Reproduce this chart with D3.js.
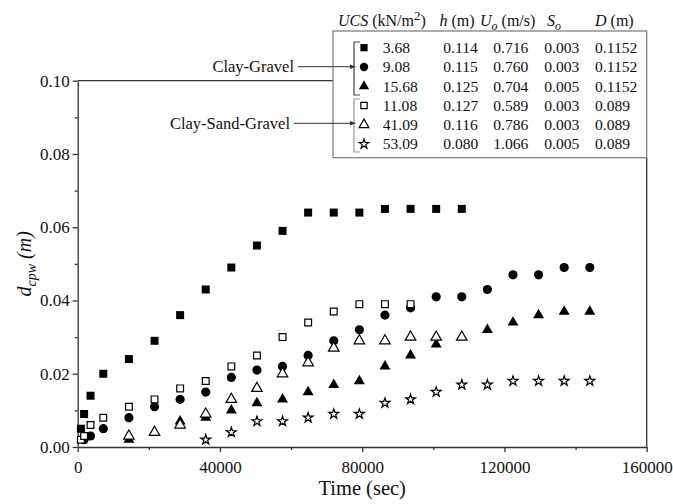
<!DOCTYPE html>
<html><head><meta charset="utf-8">
<script src="https://cdn.jsdelivr.net/npm/d3@7"></script>
<style>
body{margin:0;background:#fff;}
text{font-family:"Liberation Serif","Times New Roman",serif;fill:#111;}
</style></head>
<body><svg id="c" width="673" height="504"></svg>
<script>
// ---- data ----
const sqTime = [900,1800,3600,7200,14400,21600,28800,36000,43200,50400,57600,64800,72000,79200,86400,93600,100800,108000];
const sqVal  = [0.005,0.009,0.014,0.020,0.024,0.029,0.036,0.043,0.049,0.055,0.059,0.064,0.064,0.064,0.065,0.065,0.065,0.065];
const ciTime = [1800,3600,7200,14400,21600,28800,36000,43200,50400,57600,64800,72000,79200,86400,93600,100800,108000,115200,122400,129600,136800,144000];
const ciVal  = [0.002,0.003,0.005,0.008,0.011,0.013,0.015,0.019,0.021,0.022,0.025,0.029,0.032,0.036,0.038,0.041,0.041,0.043,0.047,0.047,0.049,0.049];
const trTime = [14400,28800,36000,43200,50400,57600,64800,72000,79200,86400,93600,100800,115200,122400,129600,136800,144000];
const trVal  = [0.002,0.007,0.008,0.010,0.012,0.013,0.015,0.017,0.018,0.022,0.025,0.028,0.032,0.034,0.036,0.037,0.037];
const osTime = [900,1800,3600,7200,14400,21600,28800,36000,43200,50400,57600,64800,72000,79200,86400,93600];
const osVal  = [0.002,0.003,0.006,0.008,0.011,0.013,0.016,0.018,0.022,0.025,0.030,0.034,0.037,0.039,0.039,0.039];
const otTime = [14400,21600,28800,36000,43200,50400,57600,64800,72000,79200,86400,93600,100800,108000];
const otVal  = [0.003,0.004,0.006,0.009,0.013,0.016,0.020,0.023,0.027,0.029,0.029,0.030,0.030,0.030];
const stTime = [36000,43200,50400,57600,64800,72000,79200,86400,93600,100800,108000,115200,122400,129600,136800,144000];
const stVal  = [0.002,0.004,0.007,0.007,0.008,0.009,0.009,0.012,0.013,0.015,0.017,0.017,0.018,0.018,0.018,0.018];

const xTicks = [0,40000,80000,120000,160000];
const yTicks = [0,0.02,0.04,0.06,0.08,0.10];
const groups = ["Clay-Gravel","Clay-Sand-Gravel"];
const legUCS = ["3.68","9.08","15.68","11.08","41.09","53.09"];
const legH   = ["0.114","0.115","0.125","0.127","0.116","0.080"];
const legU   = ["0.716","0.760","0.704","0.589","0.786","1.066"];
const legS   = ["0.003","0.003","0.005","0.003","0.003","0.005"];
const legD   = ["0.1152","0.1152","0.1152","0.089","0.089","0.089"];

// ---- layout ----
const svg = d3.select("#c");
const L = 77.7, R = 646.7, T = 80.7, B = 447;
const x = d3.scaleLinear().domain([0,160000]).range([L,R]);
const y = d3.scaleLinear().domain([0,0.10]).range([B,T]);
const axisCol = "#333";

// axes
const gx = svg.append("g").attr("transform",`translate(0,${B})`)
  .call(d3.axisBottom(x).tickValues(xTicks).tickFormat(d3.format("d")).tickSize(5).tickSizeOuter(0));
svg.append("g").attr("transform",`translate(0,${B})`)
  .call(d3.axisBottom(x).tickValues(d3.range(20000,160000,40000)).tickFormat("").tickSize(3).tickSizeOuter(0))
  .select(".domain").remove();
const gy = svg.append("g").attr("transform",`translate(${L},0)`)
  .call(d3.axisLeft(y).tickValues(yTicks).tickFormat(d3.format(".2f")).tickSize(5).tickSizeOuter(0));
svg.append("g").attr("transform",`translate(${L},0)`)
  .call(d3.axisLeft(y).tickValues([0.01,0.03,0.05,0.07,0.09]).tickFormat("").tickSize(3).tickSizeOuter(0))
  .select(".domain").remove();
svg.selectAll(".domain, .tick line").attr("stroke",axisCol).attr("stroke-width",1.3);
gx.selectAll(".tick text").attr("font-size",17).attr("font-family","Liberation Serif").attr("fill","#111").attr("dy","1.05em");
gy.selectAll(".tick text").attr("font-size",17).attr("font-family","Liberation Serif").attr("fill","#111").attr("x",-8);

// legend box
const lb = {x0:333, x1:R, y0:31, y1:157.7};
svg.append("line").attr("x1",L).attr("x2",lb.x0).attr("y1",T).attr("y2",T).attr("stroke",axisCol).attr("stroke-width",1.3);
svg.append("line").attr("x1",R).attr("x2",R).attr("y1",lb.y1).attr("y2",B).attr("stroke",axisCol).attr("stroke-width",1.3);
svg.append("rect").attr("x",lb.x0).attr("y",lb.y0).attr("width",lb.x1-lb.x0).attr("height",lb.y1-lb.y0)
  .attr("fill","#fff").attr("stroke","#777").attr("stroke-width",1.2);

// axis titles
svg.append("text").attr("x",(L+R)/2).attr("y",495).attr("text-anchor","middle").attr("font-size",20.5).text("Time (sec)");
const yl = svg.append("text").attr("transform",`translate(31,${(T+B)/2}) rotate(-90)`).attr("text-anchor","middle")
  .attr("font-size",20).attr("font-style","italic");
yl.append("tspan").text("d");
yl.append("tspan").attr("font-size",14).attr("dy",5).text("cpw");
yl.append("tspan").attr("dy",-5).text(" (m)");

// markers
const sym = {
  sq: d3.symbol().type(d3.symbolSquare).size(64),
  ci: d3.symbol().type(d3.symbolCircle).size(66),
  tr: d3.symbol().type(d3.symbolTriangle).size(52),
  os: d3.symbol().type(d3.symbolSquare).size(46),
  ot: d3.symbol().type(d3.symbolTriangle).size(48),
  st: d3.symbol().type(d3.symbolStar).size(30)
};
const styles = {
  sq:{fill:"#000",stroke:"none",sw:0},
  ci:{fill:"#000",stroke:"none",sw:0},
  tr:{fill:"#000",stroke:"none",sw:0},
  os:{fill:"#fff",stroke:"#000",sw:1.2},
  ot:{fill:"#fff",stroke:"#000",sw:1.2},
  st:{fill:"#fff",stroke:"#000",sw:1.2}
};
function drawSeries(key, ts, vs){
  const data = ts.map((t,i)=>({t, v:vs[i]}));
  svg.append("g").selectAll("path").data(data).join("path")
    .attr("d", sym[key]())
    .attr("transform", d=>`translate(${x(d.t)},${y(d.v)})`)
    .attr("fill", styles[key].fill).attr("stroke", styles[key].stroke).attr("stroke-width", styles[key].sw);
}
drawSeries("sq", sqTime, sqVal);
drawSeries("ci", ciTime, ciVal);
drawSeries("tr", trTime, trVal);
drawSeries("os", osTime, osVal);
drawSeries("ot", otTime, otVal);
drawSeries("st", stTime, stVal);

// legend header
const hdr = svg.append("g").attr("font-size",16);
function ht(xp){ return hdr.append("text").attr("x",xp).attr("y",25.5); }
let t1 = ht(338);
t1.append("tspan").attr("font-style","italic").text("UCS");
t1.append("tspan").text(" (kN/m");
t1.append("tspan").attr("dy",-6).attr("font-size",13).text("2");
t1.append("tspan").attr("dy",6).text(")");
let t2 = ht(439.5);
t2.append("tspan").attr("font-style","italic").text("h");
t2.append("tspan").text(" (m)");
let t3 = ht(480);
t3.append("tspan").attr("font-style","italic").text("U");
t3.append("tspan").attr("font-style","italic").attr("font-size",12).attr("dy",4).text("o");
t3.append("tspan").attr("dy",-4).text(" (m/s)");
let t4 = ht(547);
t4.append("tspan").attr("font-style","italic").text("S");
t4.append("tspan").attr("font-style","italic").attr("font-size",12).attr("dy",4).text("o");
let t5 = ht(595);
t5.append("tspan").attr("font-style","italic").text("D");
t5.append("tspan").text(" (m)");

// legend rows
const keys = ["sq","ci","tr","os","ot","st"];
const legSym = {
  sq: d3.symbol().type(d3.symbolSquare).size(52),
  ci: d3.symbol().type(d3.symbolCircle).size(56),
  tr: d3.symbol().type(d3.symbolTriangle).size(46),
  os: d3.symbol().type(d3.symbolSquare).size(40),
  ot: d3.symbol().type(d3.symbolTriangle).size(42),
  st: d3.symbol().type(d3.symbolStar).size(28)
};
const rowY = i => 47.7 + i*19.27;
keys.forEach((k,i)=>{
  svg.append("path").attr("d",legSym[k]()).attr("transform",`translate(364,${rowY(i)})`)
    .attr("fill",styles[k].fill).attr("stroke",styles[k].stroke).attr("stroke-width",styles[k].sw);
  const cols = [[382.7,legUCS[i]],[443.3,legH[i]],[493.3,legU[i]],[544.3,legS[i]],[595,legD[i]]];
  cols.forEach(([cx,txt])=>{
    svg.append("text").attr("x",cx).attr("y",rowY(i)+5.3).attr("font-size",15.6).text(txt);
  });
});

// brackets
function bracket(y0,y1,col){
  svg.append("path").attr("d",`M360,${y0}H354V${y1}H360`).attr("fill","none").attr("stroke",col).attr("stroke-width",1.2);
}
bracket(42,95,"#444");
bracket(99,152,"#999");

// group labels with arrows
const gl = [[groups[0],66.7,294,298],[groups[1],123.3,290,294]];
gl.forEach(([txt,yy,xe,xs])=>{
  svg.append("text").attr("x",xe).attr("y",yy+5.5).attr("text-anchor","end").attr("font-size",16.5).text(txt);
  svg.append("line").attr("x1",xs).attr("x2",351).attr("y1",yy).attr("y2",yy).attr("stroke","#333").attr("stroke-width",1);
  svg.append("path").attr("d",`M356,${yy}L350,${yy-2.2}L350,${yy+2.2}Z`).attr("fill","#333");
});
</script></body></html>
